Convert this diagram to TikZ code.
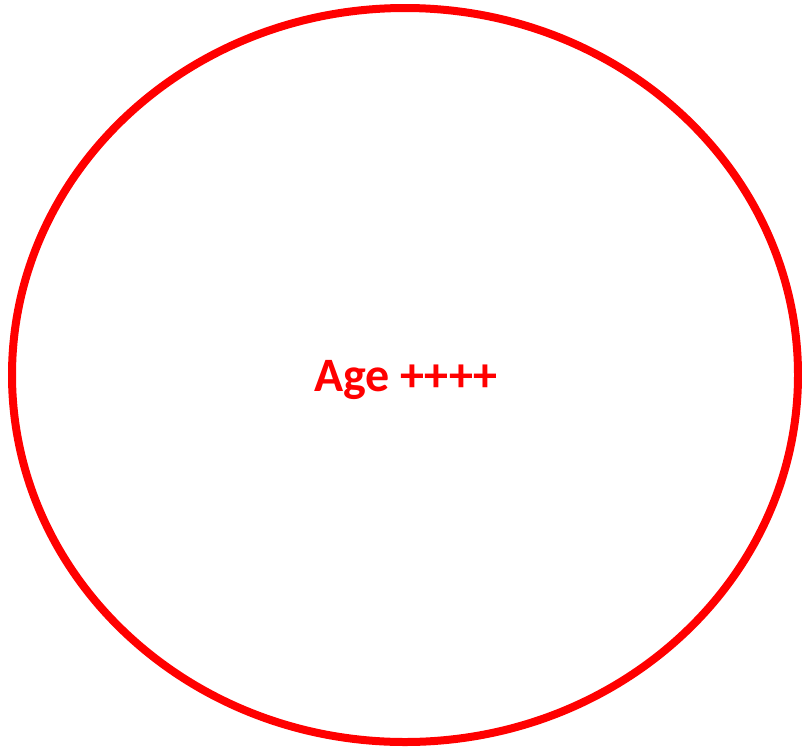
\documentclass[tikz,border=0pt]{standalone}
\usepackage{fontspec}
\setmainfont{Carlito}
\usetikzlibrary{positioning}

\begin{document}
\begin{tikzpicture}[x=1pt, y=-1pt,
  ring/.style={draw=red, line width=8pt},
  label/.style={text=red, font=\fontsize{48}{54}\selectfont\bfseries}]
  % Frame
  \useasboundingbox (0,0) rectangle (802,750);
  % Group
  \draw[ring] (405,375) ellipse[x radius=393pt, y radius=367pt];
  \node[label, anchor=base] (age) at (406,391) {Age ++++};
\end{tikzpicture}
\end{document}
